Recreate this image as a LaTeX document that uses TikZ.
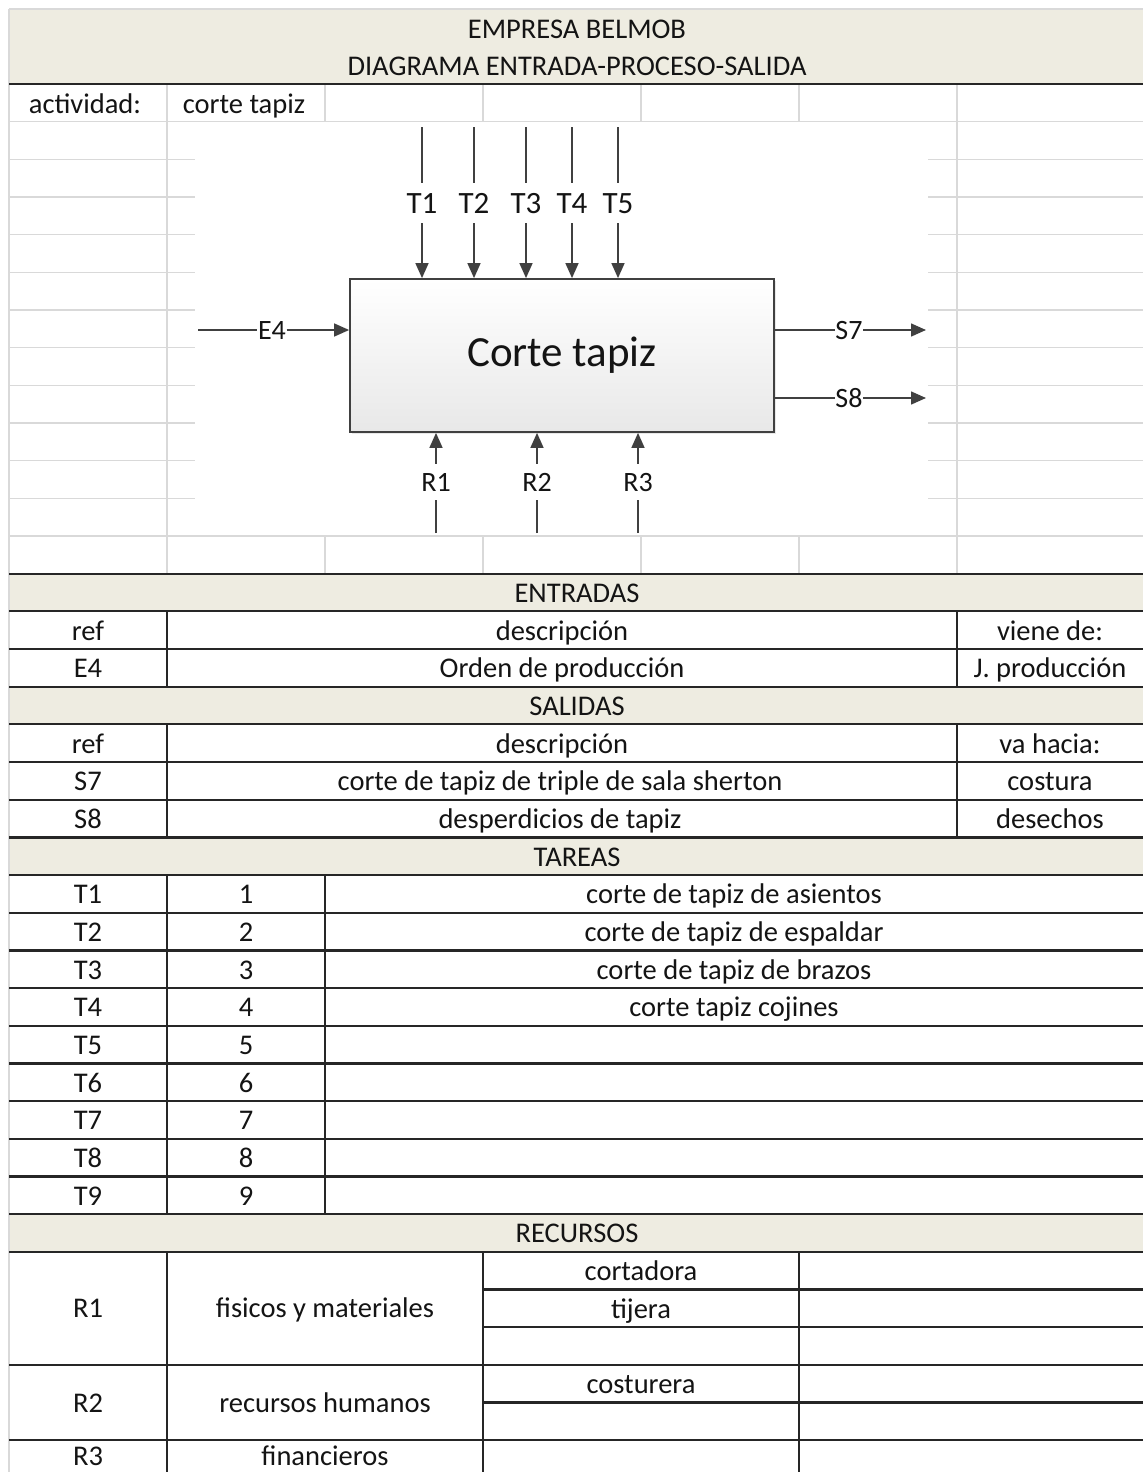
\documentclass[tikz,border=0pt]{standalone}
\usepackage{fontspec}
\setmainfont{Carlito}
\usetikzlibrary{arrows.meta,shadows}
\definecolor{tanc}{HTML}{EEECE1}
\definecolor{gridc}{HTML}{D9D9D9}
\definecolor{rulec}{HTML}{262626}
\definecolor{ink}{HTML}{141414}
\definecolor{wire}{HTML}{404040}
% vertical position of the k-th row boundary (rows are 37.667 units high)
\newcommand\rowy[1]{84+(#1)*37.667}
\begin{document}
\begin{tikzpicture}[x=1pt,y=-1pt,
  txt/.style={anchor=base, inner sep=0pt, font=\fontsize{28.5}{34}\selectfont, text=ink},
  gridrule/.style={draw=gridc, line width=1.4pt},
  boldrule/.style={draw=rulec, line width=2.3pt},
  flow/.style={draw=wire, line width=1.5pt},
  flowarrow/.style={flow, -{Triangle[length=15pt,width=13pt]}},
  toplab/.style={font=\fontsize{31}{36}\selectfont, text=ink, inner xsep=0pt, inner ysep=10pt,
    text height=20pt, text depth=0pt},
  sidelab/.style={font=\fontsize{28}{34}\selectfont, text=ink, inner xsep=0.5pt, inner ysep=9pt,
    text height=18pt, text depth=0pt},
  procbox/.style={draw=wire, line width=1.8pt, top color=white, bottom color=black!9,
    minimum width=424pt, minimum height=153pt, inner sep=0pt,
    font=\fontsize{43}{50}\selectfont, text=ink,
    drop shadow={opacity=0.18, shadow xshift=2pt, shadow yshift=-2pt}},
]
\useasboundingbox (0,0) rectangle (1143,1472);
\fill[white] (0,0) rectangle (1143,1472);

% ---- shaded header bands ----
\fill[tanc] (9,9) rectangle (1143,{\rowy{0}});
\foreach \k in {13,16,20,30}
  \fill[tanc] (9,{\rowy{\k}}) rectangle (1143,{\rowy{\k+1}});

% ---- light sheet grid ----
\draw[gridrule] (9,9) -- (1143,9);
\draw[gridrule] (9,9) -- (9,1472);
\foreach \x in {167,325,483,641,799,957}
  \draw[gridrule] (\x,{\rowy{0}}) -- (\x,{\rowy{1}});
\draw[gridrule] (9,{\rowy{1}}) -- (1143,{\rowy{1}});
\foreach \x in {167,957}
  \draw[gridrule] (\x,{\rowy{1}}) -- (\x,{\rowy{13}});
\foreach \k in {2,...,11}{
  \draw[gridrule] (9,{\rowy{\k}}) -- (195,{\rowy{\k}});
  \draw[gridrule] (928,{\rowy{\k}}) -- (1143,{\rowy{\k}});
}
\draw[gridrule] (9,{\rowy{12}}) -- (1143,{\rowy{12}});
\foreach \x in {325,483,641,799}
  \draw[gridrule] (\x,{\rowy{12}}) -- (\x,{\rowy{13}});

% ---- table borders ----
\foreach \k in {0,13,14,...,31,34,36}
  \draw[boldrule] (9,{\rowy{\k}}) -- (1143,{\rowy{\k}});
\foreach \k in {32,33,35}
  \draw[boldrule] (483,{\rowy{\k}}) -- (1143,{\rowy{\k}});
\foreach \x in {167,957}{
  \draw[boldrule] (\x,{\rowy{14}}) -- (\x,{\rowy{16}});
  \draw[boldrule] (\x,{\rowy{17}}) -- (\x,{\rowy{20}});
}
\foreach \x in {167,325}
  \draw[boldrule] (\x,{\rowy{21}}) -- (\x,{\rowy{30}});
\foreach \x in {167,483,799}
  \draw[boldrule] (\x,{\rowy{31}}) -- (\x,1472);

% ---- heading ----
\node[txt] (title1) at (577,{\rowy{-1}-8}) {EMPRESA BELMOB};
\node[txt] (title2) at (577,{\rowy{0}-8}) {DIAGRAMA ENTRADA-PROCESO-SALIDA};
\node[txt] (actlab) at (85,{\rowy{1}-8}) {actividad:};
\node[txt] (actval) at (244,{\rowy{1}-8}) {corte tapiz};

% ---- process diagram ----
\node[procbox] (box) at (562,355.5) {Corte tapiz};

\foreach \n/\x in {1/422,2/474,3/526,4/572,5/618}{
  \coordinate (t\n a) at (\x,127);
  \node[toplab] (t\n) at (\x,203) {T\n};
  \draw[flow] (t\n a) -- (t\n);
  \draw[flowarrow] (t\n) -- (t\n |- box.north);
}

\foreach \n/\x in {1/436,2/537,3/638}{
  \coordinate (r\n a) at (\x,533);
  \node[sidelab] (r\n) at (\x,482) {R\n};
  \draw[flow] (r\n a) -- (r\n);
  \draw[flowarrow] (r\n) -- (r\n |- box.south);
}

\coordinate (e4a) at (198,330);
\node[sidelab] (e4) at (272,330) {E4};
\draw[flow] (e4a) -- (e4);
\draw[flowarrow] (e4) -- (e4 -| box.west);

\node[sidelab] (s7) at (849,330) {S7};
\coordinate (s7b) at (926,330);
\draw[flow] (s7 -| box.east) -- (s7);
\draw[flowarrow] (s7) -- (s7b);

\node[sidelab] (s8) at (849,398) {S8};
\coordinate (s8b) at (926,398);
\draw[flow] (s8 -| box.east) -- (s8);
\draw[flowarrow] (s8) -- (s8b);

% ---- ENTRADAS ----
\node[txt] (enthead) at (577,{\rowy{14}-9}) {ENTRADAS};
\node[txt] (entref) at (88,{\rowy{15}-9}) {ref};
\node[txt] (entdesc) at (562,{\rowy{15}-9}) {descripción};
\node[txt] (entfrom) at (1050,{\rowy{15}-9}) {viene de:};
\node[txt] (e4ref) at (88,{\rowy{16}-9}) {E4};
\node[txt] (e4desc) at (562,{\rowy{16}-9}) {Orden de producción};
\node[txt] (e4from) at (1050,{\rowy{16}-9}) {J. producción};

% ---- SALIDAS ----
\node[txt] (salhead) at (577,{\rowy{17}-9}) {SALIDAS};
\node[txt] (salref) at (88,{\rowy{18}-9}) {ref};
\node[txt] (saldesc) at (562,{\rowy{18}-9}) {descripción};
\node[txt] (salto) at (1050,{\rowy{18}-9}) {va hacia:};
\node[txt] (s7ref) at (88,{\rowy{19}-9}) {S7};
\node[txt] (s7desc) at (560,{\rowy{19}-9}) {corte de tapiz de triple de sala sherton};
\node[txt] (s7to) at (1050,{\rowy{19}-9}) {costura};
\node[txt] (s8ref) at (88,{\rowy{20}-9}) {S8};
\node[txt] (s8desc) at (560,{\rowy{20}-9}) {desperdicios de tapiz};
\node[txt] (s8to) at (1050,{\rowy{20}-9}) {desechos};

% ---- TAREAS ----
\node[txt] (tarhead) at (577,{\rowy{21}-9}) {TAREAS};
\foreach \i in {1,...,9}{
  \node[txt] (tref\i) at (88,{\rowy{21+\i}-9}) {T\i};
  \node[txt] (tnum\i) at (246,{\rowy{21+\i}-9}) {\i};
}
\node[txt] (tdesc1) at (734,{\rowy{22}-9}) {corte de tapiz de asientos};
\node[txt] (tdesc2) at (734,{\rowy{23}-9}) {corte de tapiz de espaldar};
\node[txt] (tdesc3) at (734,{\rowy{24}-9}) {corte de tapiz de brazos};
\node[txt] (tdesc4) at (734,{\rowy{25}-9}) {corte tapiz cojines};

% ---- RECURSOS ----
\node[txt] (rechead) at (577,{\rowy{31}-9}) {RECURSOS};
\node[txt] (rec1) at (88,1317) {R1};
\node[txt] (rec1kind) at (325,1317) {fisicos y materiales};
\node[txt] (rec1a) at (641,{\rowy{32}-9}) {cortadora};
\node[txt] (rec1b) at (641,{\rowy{33}-9}) {tijera};
\node[txt] (rec2) at (88,1412) {R2};
\node[txt] (rec2kind) at (325,1412) {recursos humanos};
\node[txt] (rec2a) at (641,{\rowy{35}-9}) {costurera};
\node[txt] (rec3) at (88,1465) {R3};
\node[txt] (rec3kind) at (325,1465) {financieros};
\end{tikzpicture}
\end{document}
